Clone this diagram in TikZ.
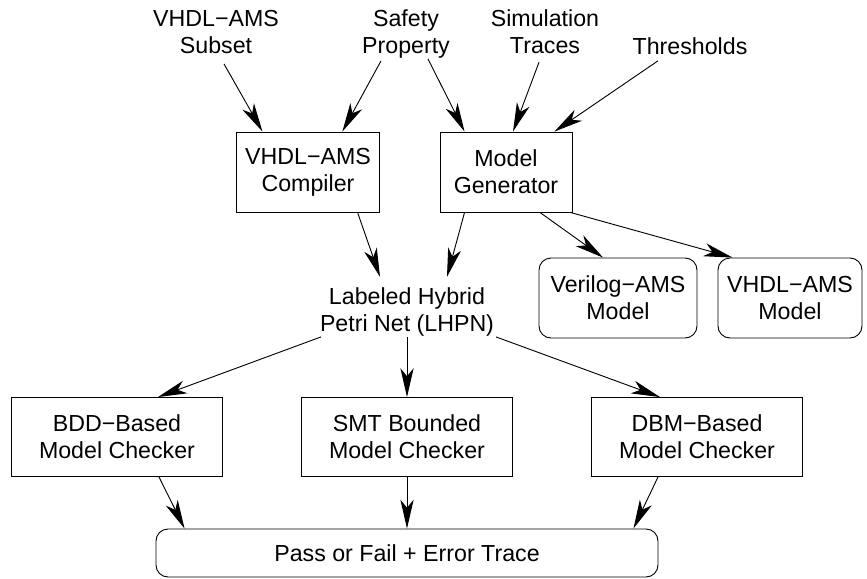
\documentclass[tikz,border=0pt]{standalone}
\usepackage{fontspec}
\setmainfont{Liberation Sans}
\usetikzlibrary{arrows.meta}

\begin{document}
\begin{tikzpicture}[
  font=\fontsize{16.5pt}{19.1pt}\selectfont,
  txt/.style={align=center, inner sep=0pt},
  blk/.style={draw, line width=0.65pt, align=center, minimum height=2cm},
  rblk/.style={blk, rounded corners=0.3cm},
  arr/.style={line width=0.65pt, -{Stealth[length=0.72cm, width=0.33cm, inset=0.2cm]}}
]
\useasboundingbox (0,0) rectangle (21.675,-14.45);
\node[txt] (subset) at (5.40,-0.80) {VHDL−AMS\\Subset};
\node[txt] (property) at (10.15,-0.86) {Safety\\Property};
\node[txt] (traces) at (13.625,-0.80) {Simulation\\Traces};
\node[txt] (thresholds) at (17.25,-1.15) {Thresholds};
\node[blk, minimum width=3.575cm] (compiler) at (7.70,-4.30) {VHDL−AMS\\Compiler};
\node[blk, minimum width=3.3cm] (generator) at (12.65,-4.30) {Model\\Generator};
\node[txt] (lhpn) at (10.175,-7.81) {Labeled Hybrid\\Petri Net (LHPN)};
\node[rblk, minimum width=3.95cm] (verilog) at (15.45,-7.45) {Verilog−AMS\\Model};
\node[rblk, minimum width=3.6cm] (vhdlmodel) at (19.75,-7.45) {VHDL−AMS\\Model};
\node[blk, minimum width=5.275cm, minimum height=1.975cm] (bdd) at (2.925,-10.925) {BDD−Based\\Model Checker};
\node[blk, minimum width=5.275cm, minimum height=1.975cm] (smt) at (10.175,-10.925) {SMT Bounded\\Model Checker};
\node[blk, minimum width=5.275cm, minimum height=1.975cm] (dbm) at (17.425,-10.925) {DBM−Based\\Model Checker};
\node[rblk, minimum width=12.55cm, minimum height=1.2cm] (result) at (10.175,-13.825) {Pass or Fail + Error Trace};
\draw[arr] ([xshift=0.2cm,yshift=-0.25cm]subset.south) -- ([xshift=0.66cm]compiler.north west);
\draw[arr] ([xshift=-0.625cm,yshift=-0.05cm]property.south) -- ([xshift=-0.94cm]compiler.north east);
\draw[arr] ([xshift=0.55cm]property.south) -- ([xshift=0.625cm]generator.north west);
\draw[arr] ([xshift=-0.15cm,yshift=-0.2cm]traces.south) -- ([xshift=0.175cm]generator.north);
\draw[arr] ([xshift=-0.8cm,yshift=-0.15cm]thresholds.south) -- ([xshift=-0.45cm]generator.north east);
\draw[arr] ([xshift=-0.56cm]compiler.south east) -- ([xshift=-0.675cm,yshift=0.275cm]lhpn.north);
\draw[arr] ([xshift=0.625cm]generator.south west) -- ([xshift=1.0cm,yshift=0.275cm]lhpn.north);
\draw[arr] ([xshift=0.85cm]generator.south) -- ([xshift=-0.375cm]verilog.north);
\draw[arr] ([xshift=-0.05cm]generator.south east) -- ([xshift=0.375cm]vhdlmodel.north west);
\draw[arr] ([xshift=-2.15cm]lhpn.south) -- ([xshift=1.025cm]bdd.north);
\draw[arr] (lhpn.south) -- (smt.north);
\draw[arr] ([xshift=2.225cm]lhpn.south) -- ([xshift=-0.925cm]dbm.north);
\draw[arr] ([xshift=1.05cm]bdd.south) -- ([xshift=0.725cm]result.north west);
\draw[arr] (smt.south) -- (result.north);
\draw[arr] ([xshift=-0.975cm]dbm.south) -- ([xshift=-0.625cm]result.north east);
\end{tikzpicture}
\end{document}
